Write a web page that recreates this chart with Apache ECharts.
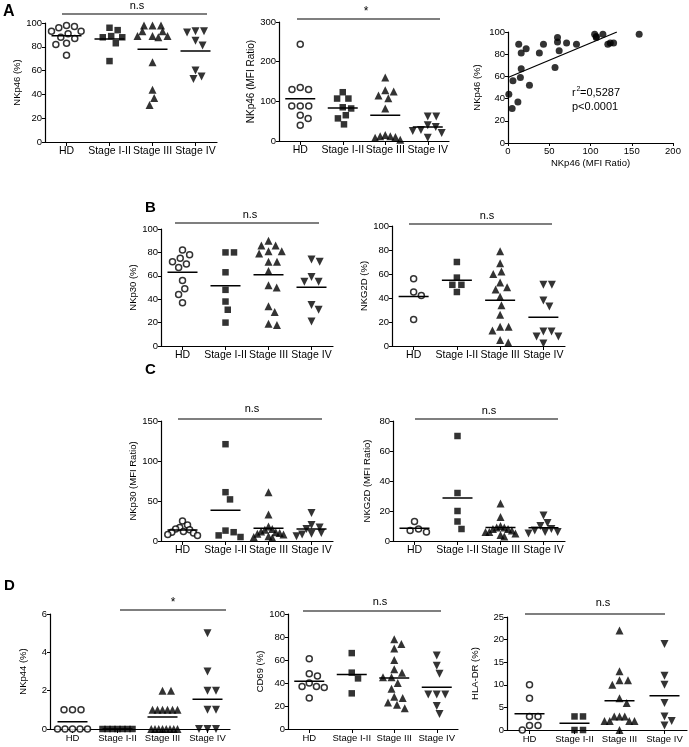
<!DOCTYPE html>
<html><head><meta charset="utf-8">
<script src="https://cdn.jsdelivr.net/npm/echarts/dist/echarts.min.js"></script>
<style>html,body{margin:0;padding:0;background:#fff}#c{width:689px;height:747px}</style>
</head><body><div id="c"></div>
<script>
// ---------- DATA ----------
const groups = ['HD', 'Stage I-II', 'Stage III', 'Stage IV'];
// A: NKp46 (%)
const a1HD  = [98, 97, 96, 93, 93, 91, 88, 87, 83, 82, 73];
const a1S12 = [96, 94, 89, 88, 88, 83, 68];
const a1S3  = [98, 98, 98, 93, 93, 89, 89, 89, 88, 67, 44, 37, 31];
const a1S4  = [93, 92, 93, 85, 81, 60, 53, 55];
// A: NKp46 (MFI Ratio)
const a2HD  = [244, 135, 130, 130, 88, 88, 88, 65, 57, 40];
const a2S12 = [123, 107, 107, 85, 82, 65, 57, 42];
const a2S3  = [160, 128, 125, 115, 108, 82, 15, 12, 12, 10, 8, 3];
const a2S4  = [62, 62, 40, 35, 28, 25, 20, 8];
// A: correlation NKp46 MFI ratio vs NKp46 %
const a3Mfi = [1, 5, 6, 12, 13, 15, 16, 16, 22, 26, 38, 43, 57, 60, 60, 62, 71, 83, 105, 107, 107, 115, 121, 124, 128, 159];
const a3Pct = [44, 31, 56, 37, 89, 59, 81, 67, 85, 52, 81, 89, 68, 91, 95, 83, 90, 89, 98, 96, 95, 98, 89, 90, 90, 98];
const a3FitX = [0, 132];
const a3FitY = [59, 100];
// B: NKp30 (%)
const b1HD  = [82, 78, 75, 72, 70, 67, 56, 49, 44, 37];
const b1S12 = [80, 80, 63, 48, 38, 31, 20];
const b1S3  = [90, 86, 86, 81, 81, 79, 72, 72, 64, 52, 50, 34, 29, 19, 18];
const b1S4  = [74, 72, 59, 55, 55, 35, 31, 21];
// B: NKG2D (%)
const b2HD  = [56, 45, 42, 22];
const b2S12 = [70, 57, 51, 51, 45];
const b2S3  = [79, 69, 62, 60, 53, 49, 47, 41, 34, 26, 16, 16, 13, 5, 3];
const b2S4  = [51, 51, 38, 33, 12, 12, 8, 8, 2];
// C: NKp30 (MFI Ratio)
const c1HD  = [25, 20, 17, 15, 14, 12, 11, 10, 8, 7];
const c1S12 = [121, 61, 52, 13, 11, 7, 5];
const c1S3  = [61, 33, 18, 15, 14, 12, 11, 10, 9, 8, 6, 5, 4];
const c1S4  = [35, 20, 17, 15, 10, 9, 8, 6];
// C: NKG2D (MFI Ratio)
const c2HD  = [13, 8, 7, 6];
const c2S12 = [70, 32, 20, 13, 8];
const c2S3  = [25, 16, 10, 9, 9, 8, 8, 7, 6, 6, 5, 4, 3];
const c2S4  = [17, 12, 10, 8, 7, 6, 6, 5];
// D: NKp44 (%)
const d1HD  = [1, 1, 1, 0, 0, 0, 0, 0];
const d1S12 = [0, 0, 0, 0, 0, 0, 0];
const d1S3  = [2, 2, 1, 1, 1, 1, 1, 1, 0, 0, 0, 0, 0, 0, 0, 0];
const d1S4  = [5, 3, 2, 2, 1, 1, 0, 0, 0];
// D: CD69 (%)
const d2HD  = [61, 48, 46, 40, 37, 37, 36, 27];
const d2S12 = [66, 49, 44, 31];
const d2S3  = [78, 74, 70, 60, 52, 49, 45, 45, 40, 35, 28, 27, 23, 21, 18];
const d2S4  = [64, 55, 48, 30, 30, 30, 20, 13];
// D: HLA-DR (%)
const d3HD  = [10, 7, 3, 3, 1, 1, 0];
const d3S12 = [3, 3, 0, 0];
const d3S3  = [22, 13, 11, 11, 10, 7, 6, 3, 3, 3, 2, 2, 2, 2, 0];
const d3S4  = [19, 12, 10, 6, 3, 2, 1];

// ---------- LAYOUT ----------
const FONT = '"Liberation Sans", Arial, sans-serif';
const panels = [
  {data:[a1HD,a1S12,a1S3,a1S4], grid:{left:45, top:23, width:172, height:119}, max:100, step:20, name:'NKp46 (%)', gap:22, cat:10.5, nf:9.5},
  {data:[a2HD,a2S12,a2S3,a2S4], grid:{left:279, top:22, width:170, height:119}, max:300, step:100, name:'NKp46 (MFI Ratio)', gap:22, cat:10.5, nf:10},
  {data:[b1HD,b1S12,b1S3,b1S4], grid:{left:161, top:229, width:172, height:117}, max:100, step:20, name:'NKp30 (%)', gap:21, cat:10.5, nf:9.5},
  {data:[b2HD,b2S12,b2S3,b2S4], grid:{left:392, top:226, width:173, height:120}, max:100, step:20, name:'NKG2D (%)', gap:21, cat:10.5, nf:9.5},
  {data:[c1HD,c1S12,c1S3,c1S4], grid:{left:161, top:421, width:172, height:120}, max:150, step:50, name:'NKp30 (MFI Ratio)', gap:21, cat:10.5, nf:9.5},
  {data:[c2HD,c2S12,c2S3,c2S4], grid:{left:393, top:421, width:172, height:120}, max:80, step:20, name:'NKG2D (MFI Ratio)', gap:21, cat:10.5, nf:9.5},
  {data:[d1HD,d1S12,d1S3,d1S4], grid:{left:50, top:614, width:180, height:115}, max:6, step:2, name:'NKp44 (%)', gap:22, cat:9.5, nf:9.5},
  {data:[d2HD,d2S12,d2S3,d2S4], grid:{left:288, top:614, width:170, height:115}, max:100, step:20, name:'CD69 (%)', gap:21, cat:9.5, nf:9.5},
  {data:[d3HD,d3S12,d3S3,d3S4], grid:{left:507, top:617, width:180, height:113}, max:25, step:5, name:'HLA-DR (%)', gap:27, cat:9.5, nf:9.5}
];
const SYMS = [
  {symbol:'circle', symbolSize:6, itemStyle:{color:'#fff', borderColor:'#000', borderWidth:1.5}},
  {symbol:'rect', symbolSize:6.5, itemStyle:{color:'#000'}},
  {symbol:'triangle', symbolSize:8, itemStyle:{color:'#000'}},
  {symbol:'triangle', symbolSize:8, symbolRotate:180, itemStyle:{color:'#000'}}
];

// column-scatter (beeswarm) placement, returns pixel offsets
function swarm(vals, yPx) {
  const D = 8.5, MAXH = 15;
  const idx = vals.map((v, i) => i).sort((a, b) => vals[b] - vals[a]);
  const placed = [], off = new Array(vals.length), ys = vals.map(v => v * yPx);
  idx.forEach(i => {
    const y = ys[i];
    const near = placed.filter(p => Math.abs(p.y - y) < D);
    const cands = [0];
    near.forEach(p => { const dx = Math.sqrt(D * D - (p.y - y) ** 2); cands.push(p.x + dx, p.x - dx); });
    cands.sort((a, b) => Math.abs(a) - Math.abs(b) || b - a);
    let c = cands.find(x => near.every(p => (p.x - x) ** 2 + (p.y - y) ** 2 >= D * D - 0.01));
    if (c === undefined) c = 0;
    placed.push({x: c, y}); off[i] = c;
  });
  return off.map((o, i) => {
    let m = 0;
    off.forEach((oj, j) => { if (Math.abs(ys[j] - ys[i]) < D) m = Math.max(m, Math.abs(oj)); });
    return m > MAXH ? o * MAXH / m : o;
  });
}
const mean = a => a.reduce((s, v) => s + v, 0) / a.length;

const axisLineStyle = {show:true, onZero:false, lineStyle:{color:'#000', width:1.2}};
const grids = [], xAxes = [], yAxes = [], series = [];
panels.forEach(p => {
  const gi = grids.length;
  grids.push(Object.assign({}, p.grid));
  xAxes.push({type:'category', gridIndex:gi, data:groups, axisLine:axisLineStyle,
    axisTick:{show:true, alignWithLabel:true, length:4, lineStyle:{color:'#000'}},
    axisLabel:{interval:0, fontSize:p.cat, color:'#000', fontFamily:FONT, margin:4}});
  const xv = xAxes.length;
  xAxes.push({type:'value', gridIndex:gi, min:-0.5, max:3.5, show:false, axisLine:{onZero:false}});
  const yi = yAxes.length;
  yAxes.push({type:'value', gridIndex:gi, min:0, max:p.max, interval:p.step,
    axisLine:axisLineStyle, axisTick:{show:true, length:3, lineStyle:{color:'#000'}},
    splitLine:{show:false}, axisLabel:{fontSize:9.5, color:'#000', fontFamily:FONT, margin:3},
    name:p.name, nameLocation:'middle', nameGap:p.gap,
    nameTextStyle:{fontSize:p.nf, color:'#000', fontFamily:FONT}});
  const band = p.grid.width / 4, yPx = p.grid.height / p.max;
  p.data.forEach((vals, g) => {
    const off = swarm(vals, yPx);
    series.push(Object.assign({type:'scatter', xAxisIndex:xv, yAxisIndex:yi, clip:false, z:3,
      data: vals.map((v, i) => [g + off[i] / band, v])}, SYMS[g]));
    const m = mean(vals), hw = 15 / band;
    series.push({type:'line', xAxisIndex:xv, yAxisIndex:yi, symbol:'none', z:4, silent:true,
      data:[[g - hw, m], [g + hw, m]], lineStyle:{color:'#000', width:1.5}});
  });
});
// correlation panel
{
  const gi = grids.length;
  grids.push({left:508, top:32, width:165, height:111});
  const xi = xAxes.length;
  xAxes.push({type:'value', gridIndex:gi, min:0, max:200, interval:50, axisLine:axisLineStyle,
    axisTick:{show:true, length:3, lineStyle:{color:'#000'}}, splitLine:{show:false},
    axisLabel:{fontSize:9.5, color:'#000', fontFamily:FONT, margin:3},
    name:'NKp46 (MFI Ratio)', nameLocation:'middle', nameGap:15,
    nameTextStyle:{fontSize:9.5, color:'#000', fontFamily:FONT}});
  const yi = yAxes.length;
  yAxes.push({type:'value', gridIndex:gi, min:0, max:100, interval:20, axisLine:axisLineStyle,
    axisTick:{show:true, length:3, lineStyle:{color:'#000'}}, splitLine:{show:false},
    axisLabel:{fontSize:9.5, color:'#000', fontFamily:FONT, margin:3},
    name:'NKp46 (%)', nameLocation:'middle', nameGap:26,
    nameTextStyle:{fontSize:9.5, color:'#000', fontFamily:FONT}});
  series.push({type:'scatter', xAxisIndex:xi, yAxisIndex:yi, clip:false, symbol:'circle', symbolSize:7,
    itemStyle:{color:'#000'}, data:a3Mfi.map((x, i) => [x, a3Pct[i]])});
  series.push({type:'line', xAxisIndex:xi, yAxisIndex:yi, symbol:'none', silent:true,
    data:a3FitX.map((x, i) => [x, a3FitY[i]]), lineStyle:{color:'#000', width:1.3}});
}

// annotations
const txt = (x, y, t, size, bold, align) => ({type:'text', x, y, silent:true,
  style:{text:t, fontSize:size, fontWeight:bold ? 'bold' : 'normal', fontFamily:FONT, fill:'#000',
    align:align || 'center', verticalAlign:'middle', textAlign:align || 'center', textVerticalAlign:'middle'}});
const bar = (x1, x2, y) => ({type:'line', silent:true, shape:{x1, y1:y, x2, y2:y}, style:{stroke:'#000', lineWidth:1.2}});
const graphic = [
  txt(3, 12, 'A', 16, true, 'left'), txt(145, 208, 'B', 15, true, 'left'),
  txt(145, 370, 'C', 15, true, 'left'), txt(4, 586, 'D', 15, true, 'left'),
  bar(62, 207, 14), txt(137, 6, 'n.s', 11),
  bar(297, 440, 19), txt(366, 12, '*', 12),
  bar(175, 319, 223), txt(250, 215, 'n.s', 11),
  bar(409, 552, 224), txt(487, 216, 'n.s', 11),
  bar(178, 322, 419), txt(252, 409, 'n.s', 11),
  bar(415, 558, 419), txt(489, 411, 'n.s', 11),
  bar(120, 226, 610), txt(173, 603, '*', 12),
  bar(303, 441, 611), txt(380, 602, 'n.s', 11),
  bar(525, 665, 614), txt(603, 603, 'n.s', 11),
  txt(572, 93, 'r', 11, false, 'left'), txt(576.5, 89, '2', 7, false, 'left'),
  txt(580, 93, '=0,5287', 11, false, 'left'), txt(572, 107, 'p<0.0001', 11, false, 'left')
];

const chart = echarts.init(document.getElementById('c'), null, {renderer:'canvas'});
chart.setOption({animation:false, backgroundColor:'#fff', textStyle:{fontFamily:FONT},
  grid:grids, xAxis:xAxes, yAxis:yAxes, series, graphic});
</script></body></html>
